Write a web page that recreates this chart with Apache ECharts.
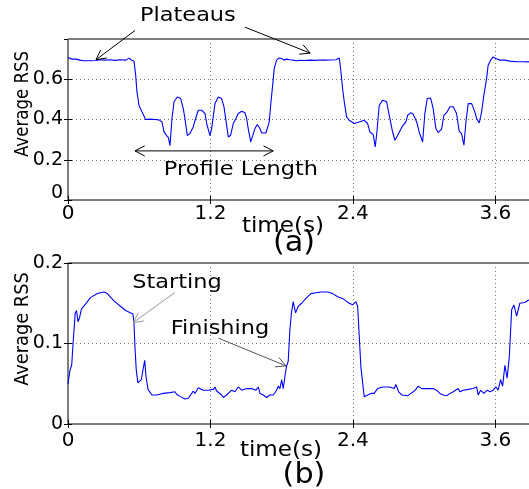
<!DOCTYPE html>
<html><head><meta charset="utf-8">
<script src="https://cdn.jsdelivr.net/npm/echarts@6/dist/echarts.min.js"></script>
<style>html,body{margin:0;padding:0;background:#fff}#c{width:529px;height:489px}</style>
</head><body><div id="c"></div>
<script>
// ---- data (time in s, average RSS) ----
const topTime = [0.000,0.034,0.067,0.101,0.135,0.185,0.236,0.269,0.312,0.354,
0.396,0.438,0.488,0.514,0.531,0.543,0.556,0.570,0.581,0.598,
0.623,0.654,0.691,0.733,0.766,0.792,0.808,0.831,0.846,0.859,
0.876,0.893,0.920,0.949,0.971,0.985,1.005,1.027,1.055,1.075,
1.097,1.126,1.154,1.168,1.196,1.210,1.238,1.266,1.294,1.314,
1.336,1.350,1.370,1.392,1.415,1.434,1.463,1.491,1.505,1.518,
1.539,1.555,1.575,1.594,1.617,1.631,1.667,1.695,1.707,1.724,
1.737,1.757,1.779,1.800,1.819,1.842,1.869,1.897,1.920,1.954,
1.996,2.038,2.080,2.122,2.164,2.206,2.257,2.285,2.299,2.313,
2.327,2.347,2.369,2.411,2.453,2.495,2.524,2.543,2.571,2.588,
2.602,2.622,2.651,2.684,2.706,2.734,2.754,2.777,2.813,2.846,
2.861,2.888,2.908,2.937,2.958,2.987,3.006,3.026,3.054,3.076,
3.099,3.118,3.147,3.166,3.194,3.217,3.245,3.273,3.295,3.315,
3.335,3.352,3.371,3.400,3.427,3.442,3.464,3.484,3.503,3.526,
3.539,3.560,3.581,3.604,3.638,3.680,3.722,3.779,3.834,3.900];
const topRSS = [0.708,0.700,0.700,0.695,0.692,0.692,0.693,0.697,0.695,0.697,
0.694,0.697,0.695,0.705,0.697,0.705,0.690,0.620,0.537,0.470,
0.438,0.400,0.402,0.400,0.398,0.388,0.340,0.320,0.310,0.270,
0.405,0.488,0.512,0.504,0.454,0.405,0.320,0.330,0.363,0.405,
0.446,0.446,0.430,0.380,0.320,0.355,0.480,0.512,0.504,0.463,
0.372,0.313,0.322,0.380,0.405,0.430,0.441,0.433,0.405,0.355,
0.289,0.297,0.355,0.375,0.355,0.333,0.333,0.388,0.471,0.571,
0.653,0.695,0.706,0.703,0.695,0.700,0.697,0.695,0.692,0.694,
0.693,0.695,0.694,0.696,0.695,0.696,0.697,0.706,0.637,0.554,
0.488,0.413,0.396,0.380,0.388,0.396,0.380,0.338,0.325,0.264,
0.338,0.471,0.496,0.488,0.421,0.338,0.297,0.322,0.363,0.388,
0.421,0.434,0.426,0.388,0.338,0.289,0.430,0.504,0.507,0.454,
0.355,0.335,0.352,0.421,0.438,0.463,0.463,0.430,0.342,0.330,
0.272,0.388,0.479,0.479,0.438,0.405,0.383,0.438,0.521,0.603,
0.670,0.695,0.711,0.703,0.695,0.695,0.690,0.687,0.687,0.686];
const botTime = [0.000,0.017,0.031,0.045,0.061,0.072,0.084,0.097,0.114,0.147,
0.189,0.247,0.303,0.331,0.387,0.444,0.486,0.528,0.547,0.556,
0.564,0.575,0.589,0.617,0.634,0.646,0.657,0.674,0.707,0.749,
0.800,0.859,0.901,0.915,0.929,0.947,0.985,1.013,1.042,1.055,
1.069,1.097,1.139,1.181,1.224,1.238,1.252,1.294,1.308,1.336,
1.379,1.392,1.406,1.434,1.463,1.505,1.547,1.583,1.603,1.617,
1.645,1.673,1.701,1.729,1.757,1.771,1.785,1.800,1.813,1.827,
1.841,1.855,1.869,1.882,1.897,1.917,1.939,1.968,2.004,2.046,
2.088,2.131,2.187,2.229,2.271,2.313,2.341,2.369,2.397,2.425,
2.440,2.453,2.467,2.495,2.524,2.552,2.579,2.608,2.650,2.706,
2.748,2.762,2.785,2.813,2.861,2.888,2.908,2.925,2.950,2.979,
3.023,3.076,3.105,3.133,3.160,3.189,3.217,3.245,3.287,3.301,
3.329,3.371,3.413,3.442,3.455,3.475,3.503,3.531,3.554,3.581,
3.604,3.623,3.644,3.661,3.680,3.699,3.718,3.737,3.756,3.779,
3.806,3.848,3.882,3.900];
const botRSS = [0.050,0.067,0.073,0.105,0.138,0.141,0.127,0.132,0.143,0.149,
0.157,0.162,0.164,0.162,0.153,0.146,0.141,0.138,0.137,0.125,
0.096,0.067,0.051,0.055,0.069,0.079,0.059,0.043,0.036,0.036,
0.038,0.039,0.040,0.037,0.039,0.034,0.031,0.032,0.038,0.041,
0.038,0.045,0.042,0.042,0.043,0.046,0.041,0.036,0.033,0.036,
0.042,0.044,0.040,0.046,0.042,0.044,0.044,0.042,0.046,0.038,
0.036,0.033,0.036,0.036,0.042,0.047,0.044,0.055,0.044,0.059,
0.072,0.078,0.117,0.138,0.152,0.138,0.146,0.150,0.156,0.162,
0.163,0.164,0.164,0.162,0.158,0.156,0.153,0.150,0.148,0.152,
0.146,0.110,0.071,0.034,0.036,0.038,0.038,0.044,0.046,0.046,
0.044,0.049,0.040,0.036,0.035,0.038,0.040,0.042,0.047,0.044,
0.044,0.044,0.042,0.038,0.036,0.035,0.038,0.040,0.044,0.040,
0.042,0.043,0.044,0.046,0.036,0.042,0.038,0.042,0.040,0.042,
0.046,0.042,0.055,0.047,0.073,0.057,0.085,0.142,0.148,0.134,
0.150,0.151,0.154,0.156];
const xTicks = ['0','1.2','2.4','3.6'];
const topYTicks = ['0','0.2','0.4','0.6'];
const botYTicks = ['0','0.1','0.2'];

// annotations (in data units)
const annTexts = [
  {grid:0, t:1.01, v:0.915, text:'Plateaus'},
  {grid:0, t:1.457, v:0.149, text:'Profile Length'},
  {grid:1, t:0.918, v:0.1755, text:'Starting'},
  {grid:1, t:1.28, v:0.118, text:'Finishing'}
];
const annArrows = [
  {grid:0, from:[0.564,0.842], to:[0.236,0.697], color:'#000', both:false},
  {grid:0, from:[1.49,0.859], to:[2.04,0.730], color:'#000', both:false},
  {grid:0, from:[0.564,0.244], to:[1.729,0.244], color:'#000', both:true},
  {grid:1, from:[0.901,0.1634], to:[0.550,0.126], color:'#999', both:false},
  {grid:1, from:[1.266,0.1067], to:[1.836,0.0722], color:'#555', both:false}
];

const FONT = '"DejaVu Sans", sans-serif';
const chart = echarts.init(document.getElementById('c'), null, {renderer:'canvas'});

function fmt(list, liftZero){
  return function(v){
    const s = String(+(+v).toFixed(2));
    if (list.indexOf(s) < 0) return '';
    return (liftZero && s === '0') ? '{z|0}' : s;
  };
}
const gridLine = {show:true, lineStyle:{color:'#777', type:[1,3], width:1}};
function xAx(gi, main){
  return {gridIndex:gi, type:'value', min:0, max:3.9, interval:1.2, position: main?'bottom':'top',
    axisLine:{show:false}, axisTick:{show:true, inside:true, length:4, lineStyle:{color:'#000'}},
    axisLabel:{show:main, fontSize:20, color:'#000', fontFamily:FONT, margin: gi===0?4:7, showMaxLabel:false, formatter: fmt(xTicks)},
    splitLine: main ? gridLine : {show:false}};
}
function yAx(gi, main, max, itv, list){
  return {gridIndex:gi, type:'value', min:0, max:max, interval:itv, position: main?'left':'right',
    axisLine:{show:false}, axisTick:{show:true, inside:true, length:4, lineStyle:{color:'#000'}},
    axisLabel:{show:main, fontSize:19, color:'#000', fontFamily:FONT, margin:5, showMaxLabel: gi===1,
      formatter: fmt(list, gi===0),
      rich:{z:{fontSize:19, fontFamily:FONT, color:'#000', padding:[0,0,14,0]}}},
    splitLine: main ? gridLine : {show:false}};
}
const option = {
  animation:false,
  backgroundColor:'#fff',
  grid:[
    {left:68, top:39, width:463, height:161, show:true, borderColor:'#000', borderWidth:1, backgroundColor:'transparent', containLabel:false, outerBoundsMode:'none'},
    {left:68, top:263, width:463, height:161, show:true, borderColor:'#000', borderWidth:1, backgroundColor:'transparent', containLabel:false, outerBoundsMode:'none'}
  ],
  xAxis:[xAx(0,true), xAx(0,false), xAx(1,true), xAx(1,false)],
  yAxis:[yAx(0,true,0.8,0.2,topYTicks), yAx(0,false,0.8,0.2,topYTicks), yAx(1,true,0.2,0.1,botYTicks), yAx(1,false,0.2,0.1,botYTicks)],
  series:[
    {type:'line', xAxisIndex:0, yAxisIndex:0, data: topTime.map((t,i)=>[t, topRSS[i]]), showSymbol:false, symbol:'none', lineStyle:{color:'#0000ff', width:1.1}, clip:true},
    {type:'line', xAxisIndex:2, yAxisIndex:2, data: botTime.map((t,i)=>[t, botRSS[i]]), showSymbol:false, symbol:'none', lineStyle:{color:'#0000ff', width:1.1}, clip:true}
  ]
};
chart.setOption(option);

function px(g, p){ return chart.convertToPixel({gridIndex:g}, p); }
function head(tip, from, len, ang){
  const dx = from[0]-tip[0], dy = from[1]-tip[1];
  const a = Math.atan2(dy, dx);
  return [[tip[0]+len*Math.cos(a+ang), tip[1]+len*Math.sin(a+ang)], tip, [tip[0]+len*Math.cos(a-ang), tip[1]+len*Math.sin(a-ang)]];
}
const els = [];
annArrows.forEach(a => {
  const p1 = px(a.grid, a.from), p2 = px(a.grid, a.to);
  els.push({type:'line', shape:{x1:p1[0], y1:p1[1], x2:p2[0], y2:p2[1]}, style:{stroke:a.color, lineWidth:1}, z:100});
  els.push({type:'polyline', shape:{points:head(p2, p1, 11, 0.48)}, style:{stroke:a.color, fill:null, lineWidth:1}, z:100});
  if (a.both) els.push({type:'polyline', shape:{points:head(p1, p2, 11, 0.48)}, style:{stroke:a.color, fill:null, lineWidth:1}, z:100});
});
function txt(str, x, y, size, sx, sy, rot){
  return {type:'text', x:x, y:y, rotation:rot||0, scaleX:sx||1, scaleY:sy||1,
    style:{text:str, fill:'#000', font:size+'px '+FONT, align:'center', verticalAlign:'middle', textAlign:'center', textVerticalAlign:'middle'}, z:100};
}
annTexts.forEach(a => {
  const p = px(a.grid, [a.t, a.v]);
  els.push(txt(a.text, p[0], p[1], 19.5, 1.15, 1));
});
els.push(txt('Average RSS', 23, 104, 16.6, 1, 1.15, Math.PI/2));
els.push(txt('Average RSS', 23, 329, 17.8, 1, 1.12, Math.PI/2));
els.push(txt('time(s)', 283, 227, 21, 1.1, 1));
els.push(txt('time(s)', 281, 451, 21, 1.1, 1));
els.push(txt('(a)', 294, 244, 28, 1.08, 1));
els.push(txt('(b)', 304, 476, 28, 1.08, 1));
chart.setOption({graphic:{elements:els}});
</script>
</body></html>
